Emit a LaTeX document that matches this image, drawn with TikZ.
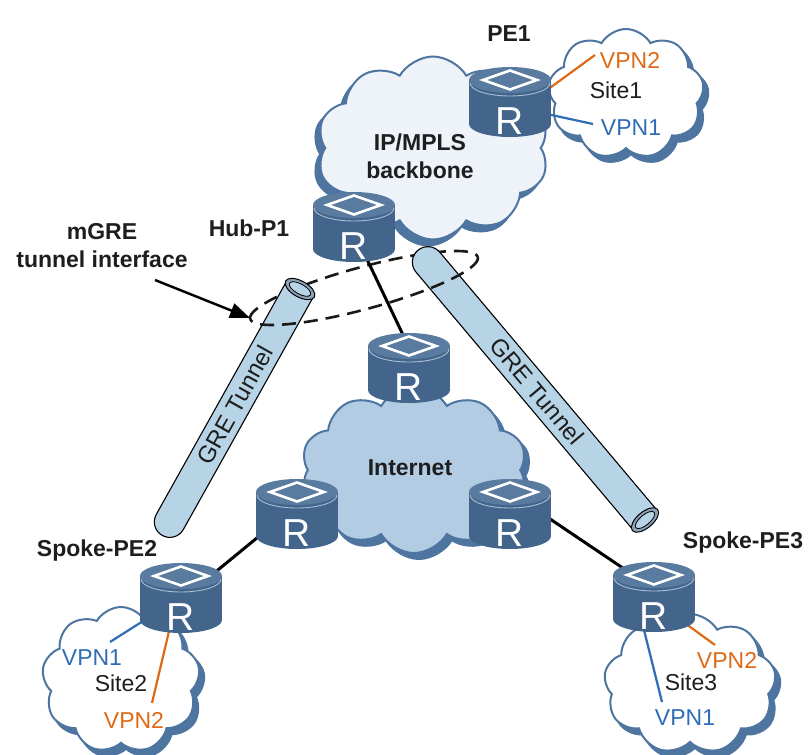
\documentclass[tikz,border=0pt]{standalone}
\usepackage{fontspec}
\setmainfont{Liberation Sans}
\usetikzlibrary{shapes.symbols,arrows.meta,calc}

\definecolor{rtop}{HTML}{5A7BA0}
\definecolor{rbody}{HTML}{43658B}
\definecolor{rrim}{HTML}{A8BED3}
\definecolor{cedge}{HTML}{4E75A0}
\definecolor{bbfill}{HTML}{EEF3FA}
\definecolor{inetfill}{HTML}{B2CCE4}
\definecolor{tube}{HTML}{B7D4E6}
\definecolor{tubering}{HTML}{8CA3B7}
\definecolor{vpnor}{HTML}{DE6A16}
\definecolor{vpnbl}{HTML}{2F6CB8}
\definecolor{txt}{HTML}{1E1E1E}

\tikzset{
  pics/router/.style={code={
    \fill[rbody] (-41,0) rectangle (41,44);
    \fill[rbody] (0,44) ellipse[x radius=41,y radius=13];
    \fill[rtop] (0,0) ellipse[x radius=41,y radius=13];
    \draw[rrim, line width=0.9] (-40,3) arc[start angle=180,end angle=0,x radius=40,y radius=13];
    \draw[white, line width=2.6, line join=miter] (-27,0) -- (0,-9.5) -- (27,0) -- (0,9.5) -- cycle;
    \node[text=white, inner sep=0, font=\fontsize{39}{39}\selectfont] at (0,41) {R};
    \coordinate (-c) at (0,30);
  }},
  cloudsh/.style={cloud, cloud puffs=#1, cloud puff arc=120, cloud ignores aspect, inner sep=0,
    fill=cedge, draw=cedge, line width=2},
  cloudbody/.style={cloud, cloud puffs=#1, cloud puff arc=120, cloud ignores aspect, inner sep=0,
    draw=cedge, line width=2},
  bold/.style={font=\fontsize{23}{28}\selectfont\bfseries, text=txt, inner sep=0, align=center},
  plain/.style={font=\fontsize{23}{28}\selectfont, inner sep=0},
  link/.style={line width=3, black},
  vpnline/.style={line width=2.2},
  tunnelbody/.style={fill=tube, draw=black, line width=1.1},
  dashring/.style={line width=2.6, dash pattern=on 14pt off 8pt, black!90},
  tunnellabel/.style={font=\fontsize{24}{28}\selectfont, text=txt, inner sep=0},
}

\begin{document}
\begin{tikzpicture}[x=1pt,y=-1pt]
\useasboundingbox (0,0) rectangle (809,755);

% clouds: drop shadow first, then the cloud itself
\node[cloudsh=10, minimum width=232, minimum height=183] at (428,154) {};
\node[cloudbody=10, fill=bbfill, minimum width=232, minimum height=183] (bb) at (433,148) {};
\node[cloudsh=9, minimum width=156, minimum height=130] at (631,100) {};
\node[cloudbody=9, fill=white, minimum width=156, minimum height=130] (site1) at (626,94) {};
\node[cloudsh=10, minimum width=226, minimum height=166] at (419,476) {};
\node[cloudbody=10, fill=inetfill, minimum width=226, minimum height=166] (inet) at (414,470) {};
\node[cloudsh=9, minimum width=158, minimum height=146] at (126,686) {};
\node[cloudbody=9, fill=white, minimum width=158, minimum height=146] (site2) at (121,680) {};
\node[cloudsh=9, minimum width=172, minimum height=140] at (695,690) {};
\node[cloudbody=9, fill=white, minimum width=172, minimum height=140] (site3) at (690,684) {};

% rear half of the mGRE interface ring
\begin{scope}[shift={(364,288)}, rotate=15.2]
  \draw[dashring] (-118,0) arc[start angle=180,end angle=360,x radius=118,y radius=21];
\end{scope}

% anchor points for the links
\coordinate (hubA) at (354,232);
\coordinate (itopA) at (415,360);
\coordinate (ileftA) at (297,505);
\coordinate (pe2A) at (185,597);
\coordinate (irightA) at (510,492);
\coordinate (pe3A) at (654,589);
\draw[link] (hubA) -- (itopA);
\draw[link] (ileftA) -- (pe2A);
\draw[link] (irightA) -- (pe3A);

% attachment circuits
\coordinate (pe1o) at (510,117);
\coordinate (pe1b) at (510,106);
\coordinate (s1o) at (595,55);
\coordinate (s1b) at (593,124);
\coordinate (pe2b) at (181,597);
\coordinate (pe2o) at (175,606);
\coordinate (s2b) at (110,642);
\coordinate (s2o) at (152,703);
\coordinate (pe3b) at (639,610);
\coordinate (pe3o) at (660,605);
\coordinate (s3b) at (662,702);
\coordinate (s3o) at (715,645);
\draw[vpnline, vpnor] (pe1o) -- (s1o);
\draw[vpnline, vpnbl] (pe1b) -- (s1b);
\draw[vpnline, vpnbl] (pe2b) -- (s2b);
\draw[vpnline, vpnor] (pe2o) -- (s2o);
\draw[vpnline, vpnbl] (pe3b) -- (s3b);
\draw[vpnline, vpnor] (pe3o) -- (s3o);

% routers
\pic (pe1) at (510,80) {router};
\pic (hub) at (354,205) {router};
\pic (itop) at (409,346) {router};
\pic (ileft) at (297,492) {router};
\pic (iright) at (510,492) {router};
\pic (pe2) at (181,576) {router};
\pic (pe3) at (654,575) {router};

% GRE tunnels
\begin{scope}[shift={(300,289)}, rotate=240.8]
  \filldraw[tunnelbody] (0,-15.5) -- (266.8,-15.5) arc[start angle=-90,end angle=90,radius=15.5] -- (0,15.5) -- cycle;
  \filldraw[fill=tubering, draw=black, line width=1] (0,0) ellipse[x radius=8,y radius=16.5];
  \filldraw[fill=tube, draw=black, line width=0.8] (0,0) ellipse[x radius=5,y radius=12];
\end{scope}
\begin{scope}[shift={(645,520)}, rotate=130.1]
  \filldraw[tunnelbody] (0,-15.5) -- (337.1,-15.5) arc[start angle=-90,end angle=90,radius=15.5] -- (0,15.5) -- cycle;
  \filldraw[fill=tubering, draw=black, line width=1] (0,0) ellipse[x radius=8,y radius=16.5];
  \filldraw[fill=tube, draw=black, line width=0.8] (0,0) ellipse[x radius=5,y radius=12];
\end{scope}
\node[tunnellabel, rotate=60.8] (gre1) at (235,405) {GRE Tunnel};
\node[tunnellabel, rotate=-49.9] (gre2) at (537,391) {GRE Tunnel};

% front half of the mGRE interface ring
\begin{scope}[shift={(364,288)}, rotate=15.2]
  \draw[dashring] (118,0) arc[start angle=0,end angle=180,x radius=118,y radius=21];
\end{scope}

% labels
\node[bold] (lpe1) at (509,34) {PE1};
\node[bold] (lbb) at (420,156) {IP/MPLS\\backbone};
\node[bold] (lhub) at (249,228) {Hub-P1};
\node[bold] (lmgre) at (102,246) {mGRE\\tunnel interface};
\node[bold] (linet) at (410,468) {Internet};
\node[bold] (lpe2) at (97,551) {Spoke-PE2};
\node[bold] (lpe3) at (743,543) {Spoke-PE3};

\node[plain, text=vpnor] (v2a) at (630,60) {VPN2};
\node[plain, text=txt] (st1) at (616,90) {Site1};
\node[plain, text=vpnbl] (v1a) at (631,128) {VPN1};
\node[plain, text=vpnbl] (v1b) at (92,658) {VPN1};
\node[plain, text=txt] (st2) at (121,683) {Site2};
\node[plain, text=vpnor] (v2b) at (134,720) {VPN2};
\node[plain, text=vpnor] (v2c) at (727,660) {VPN2};
\node[plain, text=txt] (st3) at (691,682) {Site3};
\node[plain, text=vpnbl] (v1c) at (685,718) {VPN1};

% pointer to the tunnel interface
\coordinate (arrS) at (155,280);
\coordinate (arrE) at (250,318);
\draw[line width=2.5, -{Triangle[length=20pt,width=15pt]}] (arrS) -- (arrE);
\end{tikzpicture}
\end{document}
